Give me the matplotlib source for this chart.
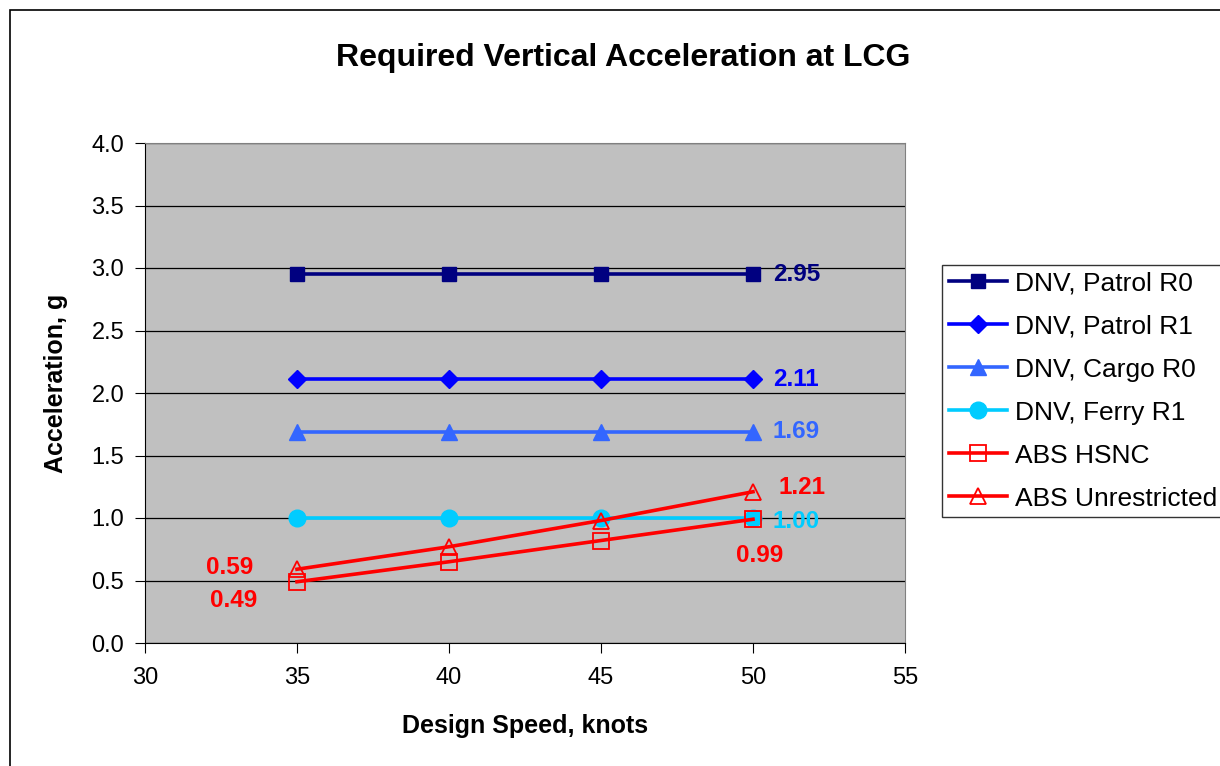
import matplotlib.pyplot as plt
from matplotlib.patches import Rectangle

plt.rcParams['font.family'] = ['Liberation Sans', 'DejaVu Sans']

speeds = [35, 40, 45, 50]
patrol_r0 = [2.95, 2.95, 2.95, 2.95]
patrol_r1 = [2.11, 2.11, 2.11, 2.11]
cargo_r0 = [1.69, 1.69, 1.69, 1.69]
ferry_r1 = [1.00, 1.00, 1.00, 1.00]
abs_hsnc = [0.49, 0.65, 0.82, 0.99]
abs_unres = [0.59, 0.77, 0.98, 1.21]

fig = plt.figure(figsize=(12.2, 7.66), dpi=100)
fig.patches.append(Rectangle((10 / 1220, -0.01), 1.2, 1 - 10 / 766 + 0.01, transform=fig.transFigure,
                             fill=False, edgecolor='black', linewidth=1.2))
ax = fig.add_axes([145 / 1220, 123 / 766, 760 / 1220, 500 / 766])
ax.set_facecolor('#C0C0C0')

lw = 2.6
ax.plot(speeds, patrol_r0, color='#000080', lw=lw, marker='s', ms=10, label='DNV, Patrol R0')
ax.plot(speeds, patrol_r1, color='#0000FF', lw=lw, marker='D', ms=9, label='DNV, Patrol R1')
ax.plot(speeds, cargo_r0, color='#3366FF', lw=lw, marker='^', ms=11, label='DNV, Cargo R0')
ax.plot(speeds, ferry_r1, color='#00CCFF', lw=lw, marker='o', ms=12, label='DNV, Ferry R1')
ax.plot(speeds, abs_hsnc, color='#FF0000', lw=lw, marker='s', ms=11, mfc='none', mew=1.3, label='ABS HSNC')
ax.plot(speeds, abs_unres, color='#FF0000', lw=lw, marker='^', ms=12, mfc='none', mew=1.3, label='ABS Unrestricted')

def lab(x, y, txt, color, dx, dy, ha='left'):
    ax.annotate(txt, (x, y), xytext=(dx, dy), textcoords='offset pixels', ha=ha, va='center',
                color=color, fontsize=17.5, fontweight='bold')

lab(speeds[-1], patrol_r0[-1], '2.95', '#000080', 20, 0)
lab(speeds[-1], patrol_r1[-1], '2.11', '#0000FF', 20, 0)
lab(speeds[-1], cargo_r0[-1], '1.69', '#3366FF', 20, 0)
lab(speeds[-1], ferry_r1[-1], '1.00', '#00CCFF', 20, -4)
lab(speeds[-1], abs_unres[-1], '1.21', '#FF0000', 25, 4)
lab(speeds[-1], abs_hsnc[-1], '0.99', '#FF0000', 7, -36, ha='center')
lab(speeds[0], abs_unres[0], '0.59', '#FF0000', -67, 2, ha='center')
lab(speeds[0], abs_hsnc[0], '0.49', '#FF0000', -63, -19, ha='center')

ax.set_xlim(30, 55)
ax.set_ylim(0, 4)
ax.set_xticks([30, 35, 40, 45, 50, 55])
ax.set_yticks([0, 0.5, 1, 1.5, 2, 2.5, 3, 3.5, 4])
ax.set_yticklabels([f'{v:.1f}' for v in ax.get_yticks()])
ax.yaxis.grid(True, color='black', lw=0.9)
ax.set_axisbelow(True)
ax.tick_params(labelsize=17, direction='out', length=7, color='black')
ax.tick_params(axis='x', pad=10)
ax.tick_params(axis='y', pad=8)
for s in ['top', 'right']:
    ax.spines[s].set_color('#808080')
for s in ['left', 'bottom']:
    ax.spines[s].set_color('black')

ax.set_xlabel('Design Speed, knots', fontsize=18, fontweight='bold')
ax.xaxis.set_label_coords(0.5, -(714 - 643) / 500)
ax.set_ylabel('Acceleration, g', fontsize=18, fontweight='bold')
ax.yaxis.set_label_coords(-(145 - 68) / 760, 0.52)
fig.text(623 / 1220, 1 - 58 / 766, 'Required Vertical Acceleration at LCG', ha='center', va='center',
         fontsize=23, fontweight='bold')

leg = fig.legend(loc='upper left', bbox_to_anchor=(942 / 1220, 1 - 265 / 766), fontsize=19,
                 frameon=True, fancybox=False, edgecolor='black', handlelength=2.2,
                 labelspacing=0.72, borderpad=0.25, handletextpad=0.3, borderaxespad=0)
leg.get_frame().set_linewidth(1.0)

fig.savefig('out.png', dpi=100)
